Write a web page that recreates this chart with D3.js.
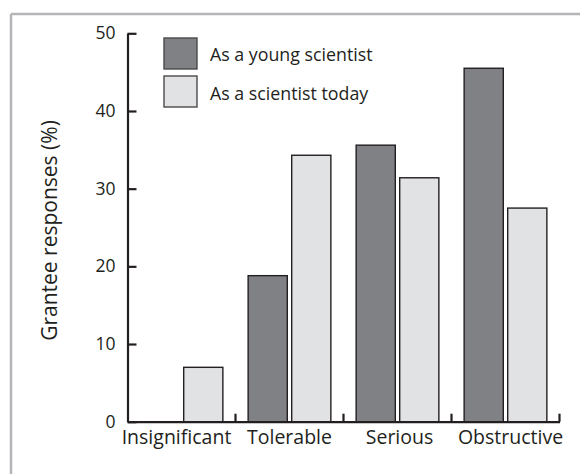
<!DOCTYPE html>
<html>
<head>
<meta charset="utf-8">
<script src="https://cdn.jsdelivr.net/npm/d3@7"></script>
<style>
  html, body { margin: 0; padding: 0; background: #fff; }
  svg { display: block; }
  text { font-family: "Open Sans", "Liberation Sans", sans-serif; fill: #231f20; }
</style>
</head>
<body>
<svg id="chart" width="580" height="474"></svg>
<script>
// Severity ratings of a problem, as grantees saw it then and now
const categories = ["Insignificant", "Tolerable", "Serious", "Obstructive"];
const seriesNames = ["As a young scientist", "As a scientist today"];
const youngValues = [0, 18.8, 35.6, 45.5];
const todayValues = [7, 34.3, 31.4, 27.5];
const yTicks = [0, 10, 20, 30, 40, 50];
const yTitle = "Grantee responses (%)";

const fills = ["#808185", "#e1e2e4"];
const ink = "#231f20";
// small horizontal nudges so the outer labels clear the boundary ticks
const labelNudge = [-5, 0, 2, 5];

const svg = d3.select("#chart");

// Light grey frame along the top and left edges
const frame = svg.append("g").attr("stroke", "#b5b5b9").attr("stroke-width", 2.5).attr("fill", "none");
frame.append("line").attr("x1", 11).attr("x2", 580).attr("y1", 14).attr("y2", 14);
frame.append("line").attr("x1", 11).attr("x2", 11).attr("y1", 14).attr("y2", 474);

const x0 = 127.5, x1 = 559.5, yBase = 421.7, yTop = 33.3;

const x = d3.scaleBand().domain(categories).range([x0, x1]).padding(0);
const xs = d3.scaleBand().domain(seriesNames).range([0, x.bandwidth()])
  .paddingInner(0.101).paddingOuter(0.29);
const y = d3.scaleLinear().domain([0, 50]).range([yBase, yTop]);

const rows = categories.map((c, i) => ({ cat: c, vals: [youngValues[i], todayValues[i]] }));

// Bars
const groups = svg.append("g").selectAll("g").data(rows).join("g")
  .attr("transform", d => `translate(${x(d.cat)},0)`);
groups.selectAll("rect")
  .data(d => d.vals.map((v, k) => ({ s: seriesNames[k], v, k })).filter(e => e.v > 0))
  .join("rect")
  .attr("x", e => xs(e.s))
  .attr("width", xs.bandwidth())
  .attr("y", e => y(e.v))
  .attr("height", e => yBase - y(e.v))
  .attr("fill", e => fills[e.k])
  .attr("stroke", ink)
  .attr("stroke-width", 1.4);

// Y axis with inward ticks
const yAxis = svg.append("g").attr("transform", `translate(${x0},0)`)
  .call(d3.axisLeft(y).tickValues(yTicks).tickSize(-9).tickSizeOuter(0).tickPadding(12));
yAxis.select(".domain").attr("stroke", ink).attr("stroke-width", 2.2);
yAxis.selectAll(".tick line").attr("stroke", ink).attr("stroke-width", 2.2);
yAxis.selectAll(".tick text").attr("font-size", 17.5).attr("font-family", null).style("fill", ink);

// X axis: baseline, upward ticks at group boundaries, centred labels
const xAxis = svg.append("g").attr("transform", `translate(0,${yBase})`)
  .call(d3.axisBottom(x).tickSize(0).tickPadding(8));
xAxis.select(".domain").attr("stroke", ink).attr("stroke-width", 2.2);
xAxis.selectAll(".tick text").attr("font-size", 19.5).attr("font-family", null).style("fill", ink)
  .attr("dx", (d, i) => labelNudge[i]);

const bounds = categories.map(c => x(c) + x.bandwidth());
xAxis.selectAll("line.bound").data(bounds).join("line").attr("class", "bound")
  .attr("x1", d => d).attr("x2", d => d).attr("y1", 0).attr("y2", -8)
  .attr("stroke", ink).attr("stroke-width", 2.2);

// Y axis title
svg.append("text")
  .attr("transform", `translate(57,230.5) rotate(-90)`)
  .attr("text-anchor", "middle")
  .attr("font-size", 21)
  .text(yTitle);

// Legend
const legend = svg.append("g").selectAll("g").data(seriesNames).join("g")
  .attr("transform", (d, i) => `translate(164,${38 + i * 38})`);
legend.append("rect").attr("width", 33).attr("height", 31)
  .attr("fill", (d, i) => fills[i]).attr("stroke", "#4a4a4c").attr("stroke-width", 1.4);
legend.append("text").attr("x", 46).attr("y", (d, i) => 23 + i * 1)
  .attr("font-size", 17.8).text(d => d);
</script>
</body>
</html>
